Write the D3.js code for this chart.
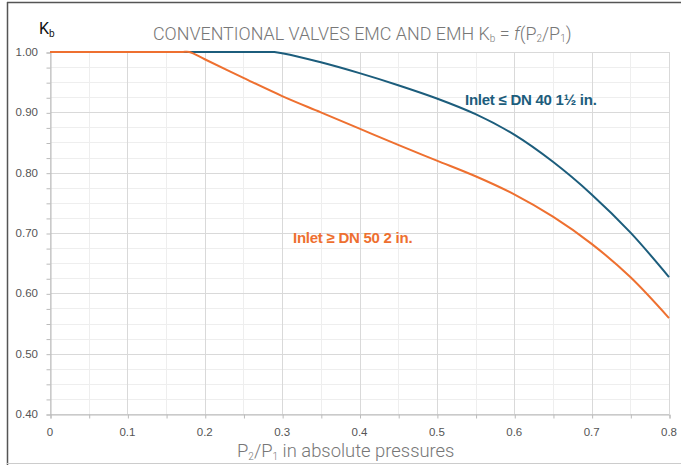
<!DOCTYPE html>
<html><head><meta charset="utf-8">
<script src="https://cdn.jsdelivr.net/npm/d3@7"></script>
<style>body{margin:0;background:#fff}svg{display:block}</style>
</head><body>
<svg id="c" width="681" height="465"></svg>
<script>
const blueX = [0, 0.1, 0.2, 0.28, 0.29, 0.3, 0.35, 0.4, 0.45, 0.5, 0.55, 0.6, 0.65, 0.7, 0.75, 0.8];
const blueY = [1, 1, 1, 1, 1, 0.998, 0.983, 0.965, 0.945, 0.923, 0.897, 0.863, 0.818, 0.764, 0.701, 0.627];
const orangeX = [0, 0.1, 0.17, 0.18, 0.2, 0.25, 0.3, 0.35, 0.4, 0.45, 0.5, 0.55, 0.6, 0.65, 0.7, 0.75, 0.8];
const orangeY = [1, 1, 1, 1, 0.988, 0.957, 0.927, 0.900, 0.873, 0.846, 0.820, 0.794, 0.764, 0.727, 0.682, 0.627, 0.559];
const xTicks = [0, 0.1, 0.2, 0.3, 0.4, 0.5, 0.6, 0.7, 0.8];
const xTickLabels = ["0", "0.1", "0.2", "0.3", "0.4", "0.5", "0.6", "0.7", "0.8"];
const yTicks = [0.4, 0.5, 0.6, 0.7, 0.8, 0.9, 1.0];
const yTickLabels = ["0.40", "0.50", "0.60", "0.70", "0.80", "0.90", "1.00"];
const blueLabel = "Inlet \u2264 DN 40 1\u00BD in.";
const orangeLabel = "Inlet \u2265 DN 50 2 in.";

const svg = d3.select("#c");
const x = d3.scaleLinear().domain([0, 0.8]).range([50, 669]);
const y = d3.scaleLinear().domain([0.4, 1.0]).range([414, 52]);

// frame
svg.append("line").attr("x1", 7).attr("x2", 681).attr("y1", 2.5).attr("y2", 2.5).attr("stroke", "#555").attr("stroke-width", 1.5);
svg.append("line").attr("x1", 7.5).attr("x2", 7.5).attr("y1", 2).attr("y2", 465).attr("stroke", "#555").attr("stroke-width", 1.5);
svg.append("line").attr("x1", 7).attr("x2", 681).attr("y1", 463.5).attr("y2", 463.5).attr("stroke", "#ccc").attr("stroke-width", 1);

// minor grid
const xMinor = d3.range(0, 0.8001, 0.05);
const yMinor = d3.range(0.4, 1.0001, 0.025);
const g = svg.append("g");
g.selectAll(".vm").data(xMinor).join("line")
  .attr("x1", d => Math.round(x(d)) + 0.5).attr("x2", d => Math.round(x(d)) + 0.5)
  .attr("y1", y(1)).attr("y2", y(0.4)).attr("stroke", "#eeeeee");
g.selectAll(".hm").data(yMinor).join("line")
  .attr("y1", d => Math.round(y(d)) + 0.5).attr("y2", d => Math.round(y(d)) + 0.5)
  .attr("x1", x(0)).attr("x2", x(0.8)).attr("stroke", "#eeeeee");
// major grid
g.selectAll(".vM").data(xTicks).join("line")
  .attr("x1", d => Math.round(x(d)) + 0.5).attr("x2", d => Math.round(x(d)) + 0.5)
  .attr("y1", y(1)).attr("y2", y(0.4)).attr("stroke", "#d9d9d9");
g.selectAll(".hM").data(yTicks).join("line")
  .attr("y1", d => Math.round(y(d)) + 0.5).attr("y2", d => Math.round(y(d)) + 0.5)
  .attr("x1", x(0)).attr("x2", x(0.8)).attr("stroke", "#d9d9d9");

// axes
const xAxis = d3.axisBottom(x).tickValues(xMinor).tickSize(4).tickFormat(() => "");
const gx = svg.append("g").attr("transform", `translate(0.5,${Math.round(y(0.4)) + 0.5})`).call(xAxis);
gx.select(".domain").attr("stroke", "#bbb");
gx.selectAll(".tick line").attr("stroke", "#bbb");
const yAxis = d3.axisLeft(y).tickValues(yMinor).tickSize(4).tickFormat(() => "");
const gy = svg.append("g").attr("transform", `translate(${Math.round(x(0)) + 0.5},0.5)`).call(yAxis);
gy.select(".domain").attr("stroke", "#bbb");
gy.selectAll(".tick line").attr("stroke", "#bbb");

// tick labels
svg.append("g").selectAll("text").data(xTicks).join("text")
  .attr("x", d => x(d)).attr("y", 436).attr("text-anchor", "middle")
  .attr("font-family", "Liberation Sans, Arial, sans-serif").attr("font-size", 11.5).attr("fill", "#555")
  .text((d, i) => xTickLabels[i]);
svg.append("g").selectAll("text").data(yTicks).join("text")
  .attr("x", 38).attr("y", d => y(d) + 4).attr("text-anchor", "end")
  .attr("font-family", "Liberation Sans, Arial, sans-serif").attr("font-size", 11.5).attr("fill", "#555")
  .text((d, i) => yTickLabels[i]);

// lines
const line = d3.line().x(d => x(d[0])).y(d => y(d[1])).curve(d3.curveCatmullRom.alpha(0.5));
svg.append("path").datum(blueX.map((v, i) => [v, blueY[i]]))
  .attr("d", line).attr("fill", "none").attr("stroke", "#1c5d7c").attr("stroke-width", 2);
svg.append("path").datum(orangeX.map((v, i) => [v, orangeY[i]]))
  .attr("d", line).attr("fill", "none").attr("stroke", "#ee7030").attr("stroke-width", 2);

// labels
svg.append("text").attr("x", 465).attr("y", 105)
  .attr("font-family", "Liberation Sans, Arial, sans-serif").attr("font-weight", "bold")
  .attr("font-size", 15).attr("letter-spacing", -0.25).attr("fill", "#1c5d7c").text(blueLabel);
svg.append("text").attr("x", 293).attr("y", 243)
  .attr("font-family", "Liberation Sans, Arial, sans-serif").attr("font-weight", "bold")
  .attr("font-size", 15).attr("letter-spacing", -0.25).attr("fill", "#ee7030").text(orangeLabel);

// title
const title = svg.append("text").attr("x", 153).attr("y", 40)
  .attr("font-family", "Roboto, sans-serif").attr("font-weight", 300)
  .attr("font-size", 17.9).attr("fill", "#777");
title.append("tspan").text("CONVENTIONAL VALVES EMC AND EMH K");
title.append("tspan").attr("font-size", 10).attr("dy", 2).text("b");
title.append("tspan").attr("dy", -2).text(" = ");
title.append("tspan").attr("font-style", "italic").text("f");
title.append("tspan").text("(P");
title.append("tspan").attr("font-size", 10).attr("dy", 2).text("2");
title.append("tspan").attr("dy", -2).text("/P");
title.append("tspan").attr("font-size", 10).attr("dy", 2).text("1");
title.append("tspan").attr("dy", -2).text(")");

// y axis title
const kb = svg.append("text").attr("x", 39).attr("y", 34)
  .attr("font-family", "Roboto, sans-serif").attr("font-size", 16).attr("fill", "#111");
kb.append("tspan").text("K");
kb.append("tspan").attr("font-size", 10).attr("dy", 3).attr("dx", 0).text("b");

// x axis title
const xt = svg.append("text").attr("x", 237).attr("y", 457)
  .attr("font-family", "Roboto, sans-serif").attr("font-weight", 300)
  .attr("font-size", 18.4).attr("fill", "#777");
xt.append("tspan").text("P");
xt.append("tspan").attr("font-size", 10).attr("dy", 3).text("2");
xt.append("tspan").attr("dy", -3).text("/P");
xt.append("tspan").attr("font-size", 10).attr("dy", 3).text("1");
xt.append("tspan").attr("dy", -3).text(" in absolute pressures");
</script>
</body></html>
